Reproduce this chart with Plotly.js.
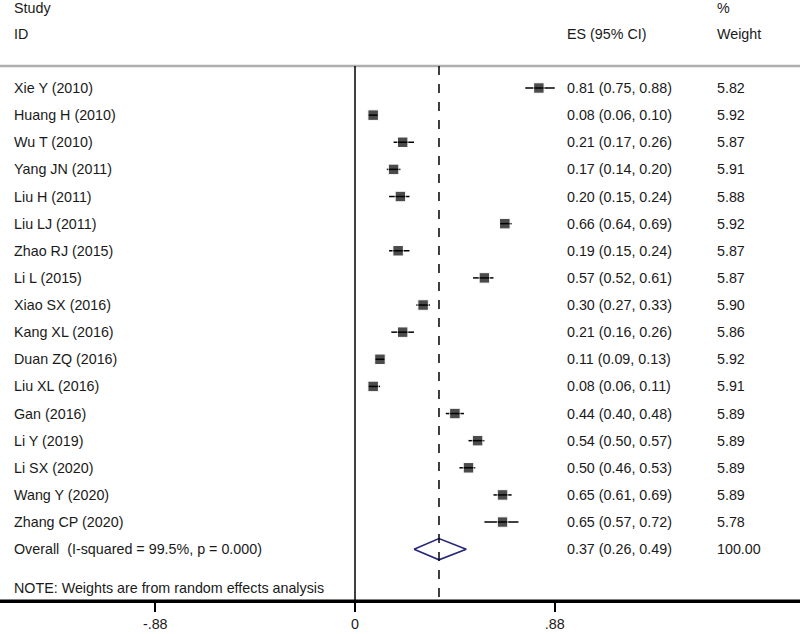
<!DOCTYPE html>
<html><head><meta charset="utf-8">
<script src="https://cdn.plot.ly/plotly-3.0.1.min.js"></script>
<style>html,body{margin:0;padding:0;background:#fff}#chart{width:800px;height:634px}</style>
</head><body><div id="chart"></div>
<script>
const studies = ["Xie Y (2010)","Huang H (2010)","Wu T (2010)","Yang JN (2011)","Liu H (2011)","Liu LJ (2011)","Zhao RJ (2015)","Li L (2015)","Xiao SX (2016)","Kang XL (2016)","Duan ZQ (2016)","Liu XL (2016)","Gan (2016)","Li Y (2019)","Li SX (2020)","Wang Y (2020)","Zhang CP (2020)"];
const es     = [0.81,0.08,0.21,0.17,0.20,0.66,0.19,0.57,0.30,0.21,0.11,0.08,0.44,0.54,0.50,0.65,0.65];
const lo     = [0.75,0.06,0.17,0.14,0.15,0.64,0.15,0.52,0.27,0.16,0.09,0.06,0.40,0.50,0.46,0.61,0.57];
const hi     = [0.88,0.10,0.26,0.20,0.24,0.69,0.24,0.61,0.33,0.26,0.13,0.11,0.48,0.57,0.53,0.69,0.72];
const weight = [5.82,5.92,5.87,5.91,5.88,5.92,5.87,5.87,5.90,5.86,5.92,5.91,5.89,5.89,5.89,5.89,5.78];
const overallLabel = "Overall  (I-squared = 99.5%, p = 0.000)";
const overallES = 0.37, overallLo = 0.26, overallHi = 0.49, overallWeight = 100.00;
const tickVals = [-0.88, 0, 0.88];
const tickText = ["-.88", "0", ".88"];
const noteText = "NOTE: Weights are from random effects analysis";

const rows = studies.map((_, i) => i);
const overallRow = studies.length;
const FONT = "Liberation Sans, Arial, sans-serif";
const TXT = "#1a1a1a";
const FS = 14.3;
const xMin = -355/227, xMax = 445/227;
const yBottom = 18.91, yTop = -3.244, yHeader = -0.81;

const traces = [
  {type: "scatter", mode: "lines", x: [xMin, xMax], y: [yHeader, yHeader],
    line: {color: "#aaaaaa", width: 2.5}, hoverinfo: "skip", showlegend: false, cliponaxis: false},
  {type: "scatter", mode: "markers", x: es, y: rows,
    marker: {symbol: "square", color: "black", size: weight.map(w => 10.5 * Math.sqrt(w / 5.9))},
    error_x: {type: "data", symmetric: false, array: hi.map((h, i) => h - es[i]), arrayminus: lo.map((l, i) => es[i] - l), color: "black", thickness: 1.5, width: 0},
    hoverinfo: "skip", showlegend: false},
  {type: "scatter", mode: "lines", x: [overallLo, overallES, overallHi, overallES, overallLo],
    y: [overallRow, overallRow - 0.39, overallRow, overallRow + 0.39, overallRow],
    line: {color: "#27277a", width: 1.6}, hoverinfo: "skip", showlegend: false}
];
const ann = [];
function addText(text, xp, y) {
  ann.push({text: text, xref: "paper", x: xp, yref: "y", y: y, xanchor: "left", yanchor: "middle", showarrow: false,
    font: {family: FONT, size: FS, color: TXT}});
}
addText("Study", 0.015, -2.95);
addText("ID", 0.015, -1.99);
addText("ES (95% CI)", 565/800, -1.99);
addText("%", 715/800, -2.95);
addText("Weight", 715/800, -1.99);
studies.forEach((s, i) => {
  addText(s, 0.015, i);
  addText(es[i].toFixed(2) + " (" + lo[i].toFixed(2) + ", " + hi[i].toFixed(2) + ")", 565/800, i);
  addText(weight[i].toFixed(2), 715/800, i);
});
addText(overallLabel, 0.015, overallRow);
addText(overallES.toFixed(2) + " (" + overallLo.toFixed(2) + ", " + overallHi.toFixed(2) + ")", 565/800, overallRow);
addText(overallWeight.toFixed(2), 715/800, overallRow);
addText(noteText, 0.015, 18.43);

const layout = {
  width: 800, height: 634,
  margin: {l: 0, r: 0, t: 0, b: 33, pad: 0},
  xaxis: {range: [xMin, xMax], showgrid: false, zeroline: false, showline: true, linecolor: "black", linewidth: 1.5,
    ticks: "outside", ticklen: 9, tickwidth: 1.5, tickcolor: "black", tickvals: tickVals, ticktext: tickText,
    tickfont: {family: FONT, size: FS, color: TXT}},
  yaxis: {range: [yBottom, yTop], visible: false, showgrid: false, zeroline: false},
  shapes: [
    {type: "rect", xref: "paper", x0: 0, x1: 1, yref: "y", y0: yHeader - 0.04, y1: yHeader + 0.04, fillcolor: "#b0b0b0", line: {width: 0}},
    {type: "rect", xref: "paper", x0: 0, x1: 1, yref: "paper", y0: 0, y1: 0.0025, fillcolor: "black", line: {width: 0}},
    {type: "line", xref: "x", x0: 0, x1: 0, yref: "y", y0: yHeader, y1: yBottom, line: {color: "black", width: 1.5}},
    {type: "line", xref: "x", x0: overallES, x1: overallES, yref: "y", y0: yHeader, y1: yBottom, line: {color: "black", width: 1.5, dash: "dash"}}
  ],
  annotations: ann, showlegend: false
};
Plotly.newPlot("chart", traces, layout, {displayModeBar: false, staticPlot: true});
</script>
</body></html>
